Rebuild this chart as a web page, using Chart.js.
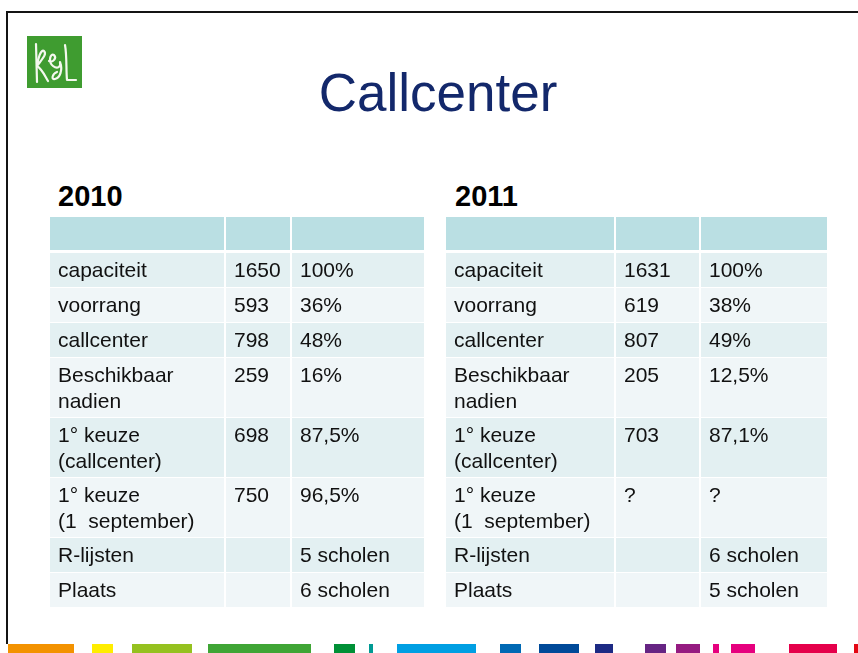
<!DOCTYPE html>
<html>
<head>
<meta charset="utf-8">
<script src="https://cdn.jsdelivr.net/npm/chart.js@4.4.0/dist/chart.umd.min.js"></script>
<style>
  html, body { margin: 0; padding: 0; background: #fff; }
  body { width: 858px; height: 653px; position: relative; overflow: hidden; font-family: "Liberation Sans", Arial, sans-serif; }
  #frameTop { position: absolute; left: 6px; top: 11px; width: 852px; height: 2px; background: #141414; }
  #frameLeft { position: absolute; left: 6px; top: 11px; width: 2px; height: 633px; background: #141414; }
  #logo { position: absolute; left: 27px; top: 36px; width: 55px; height: 52px; background: #3f9c30; }
  h1 { position: absolute; left: 0; top: 66px; width: 876px; margin: 0; text-align: center; font-weight: normal; font-size: 53px; line-height: 53px; color: #13286b; }
  .year { position: absolute; top: 182px; margin: 0; font-size: 29px; line-height: 29px; font-weight: bold; color: #000; }
  .tbl { position: absolute; top: 217px; }
  #strip div { position: absolute; top: 644px; height: 9px; }
</style>
</head>
<body>
<div id="frameTop"></div>
<div id="frameLeft"></div>
<div id="logo">
  <svg width="55" height="52" viewBox="0 0 55 52">
    <g fill="none" stroke="#f4f8ee" stroke-width="2.2" stroke-linecap="round" stroke-linejoin="round">
      <path d="M9 8 L10 46"/>
      <path d="M10 30 C16 22 20 18 17 15 C14 13 11 22 10 30 C15 33 18 40 21 45"/>
      <path d="M22 25 C26 27 30 22 27 19 C23 17 21 26 26 30 C31 34 34 30 33 26 C36 34 33 42 28 43 C24 44 25 38 30 36"/>
      <path d="M38 9 C40 20 39 34 40 44 L49 44"/>
    </g>
  </svg>
</div>
<h1>Callcenter</h1>
<div class="year" style="left:58px">2010</div>
<div class="year" style="left:455px">2011</div>
<div class="tbl" style="left:50px"><canvas id="t2010" width="374" height="390"></canvas></div>
<div class="tbl" style="left:446px"><canvas id="t2011" width="381" height="390"></canvas></div>
<div id="strip"></div>
<script>
// rijen van beide tabellen
const rowLabels = ['capaciteit', 'voorrang', 'callcenter', 'Beschikbaar\nnadien',
  '1° keuze\n(callcenter)', '1° keuze\n(1  september)', 'R-lijsten', 'Plaats'];

const aantal2010 = ['1650', '593', '798', '259', '698', '750', '', ''];
const procent2010 = ['100%', '36%', '48%', '16%', '87,5%', '96,5%', '5 scholen', '6 scholen'];

const aantal2011 = ['1631', '619', '807', '205', '703', '?', '', ''];
const procent2011 = ['100%', '38%', '49%', '12,5%', '87,1%', '?', '6 scholen', '5 scholen'];

// opmaak
const kolommen2010 = [174, 64, 132];
const kolommen2011 = [168, 83, 127];
const kleurKop = '#badfe3';
const kleurDonker = '#e3f0f2';
const kleurLicht = '#f0f6f8';

const strook = [
  [8, 74, '#f39200'], [92, 113, '#ffed00'], [132, 192, '#95c11f'], [208, 311, '#3fa535'],
  [334, 355, '#009036'], [369, 373, '#009a93'], [397, 476, '#009fe3'], [500, 521, '#0069b4'],
  [539, 579, '#004a99'], [595, 613, '#1d2a84'], [645, 666, '#662483'], [676, 700, '#951b81'],
  [713, 719, '#e6007e'], [731, 755, '#e6007e'], [789, 837, '#e5004b'], [854, 858, '#e30613']
];
const stripEl = document.getElementById('strip');
strook.forEach(([a, b, c]) => {
  const d = document.createElement('div');
  d.style.left = a + 'px';
  d.style.width = (b - a) + 'px';
  d.style.background = c;
  stripEl.appendChild(d);
});

// hoogte van elke rij volgt uit het aantal tekstregels
function rijen(labels) {
  const spans = [[0, 33]];
  let y = 36;
  labels.forEach(l => {
    const h = 34 + 25 * (l.split('\n').length - 1);
    spans.push([y, y + h]);
    y += h + 1;
  });
  return spans;
}

const celTekst = {
  id: 'celTekst',
  afterDatasetsDraw(chart) {
    const ctx = chart.ctx;
    ctx.save();
    ctx.font = '21px "Liberation Sans", Arial, sans-serif';
    ctx.fillStyle = '#111';
    ctx.textBaseline = 'middle';
    chart.data.datasets.forEach((ds, di) => {
      chart.getDatasetMeta(di).data.forEach((bar, ri) => {
        const tekst = ds.cellen[ri];
        if (!tekst) return;
        const p = bar.getProps(['x', 'y', 'base', 'width'], true);
        const links = p.x - p.width / 2 + 8;
        const top = Math.min(p.y, p.base);
        tekst.split('\n').forEach((regel, li) => ctx.fillText(regel, links, top + 18 + li * 26));
      });
    });
    ctx.restore();
  }
};

function maakTabel(id, kolommen, aantal, procent) {
  const canvas = document.getElementById(id);
  const spans = rijen(rowLabels);
  const kolomTeksten = [rowLabels, aantal, procent];
  let x = 0;
  const datasets = kolommen.map((w, ci) => {
    const midden = x + w / 2;
    x += w + 2;
    return {
      data: spans.map(s => ({ x: midden, y: s })),
      cellen: [''].concat(kolomTeksten[ci]),
      barThickness: w,
      stack: 'tabel',
      borderWidth: 0,
      borderSkipped: false,
      inflateAmount: 0,
      backgroundColor: c => c.dataIndex === 0 ? kleurKop : (c.dataIndex % 2 === 1 ? kleurDonker : kleurLicht)
    };
  });

  new Chart(canvas, {
    type: 'bar',
    data: { datasets },
    options: {
      responsive: false,
      animation: false,
      events: [],
      layout: { padding: 0 },
      plugins: { legend: { display: false }, tooltip: { enabled: false } },
      scales: {
        x: { type: 'linear', display: false, min: 0, max: canvas.width, offset: false, stacked: true },
        y: { type: 'linear', display: false, min: 0, max: canvas.height, reverse: true, stacked: false }
      }
    },
    plugins: [celTekst]
  });
}

maakTabel('t2010', kolommen2010, aantal2010, procent2010);
maakTabel('t2011', kolommen2011, aantal2011, procent2011);
</script>
</body>
</html>
